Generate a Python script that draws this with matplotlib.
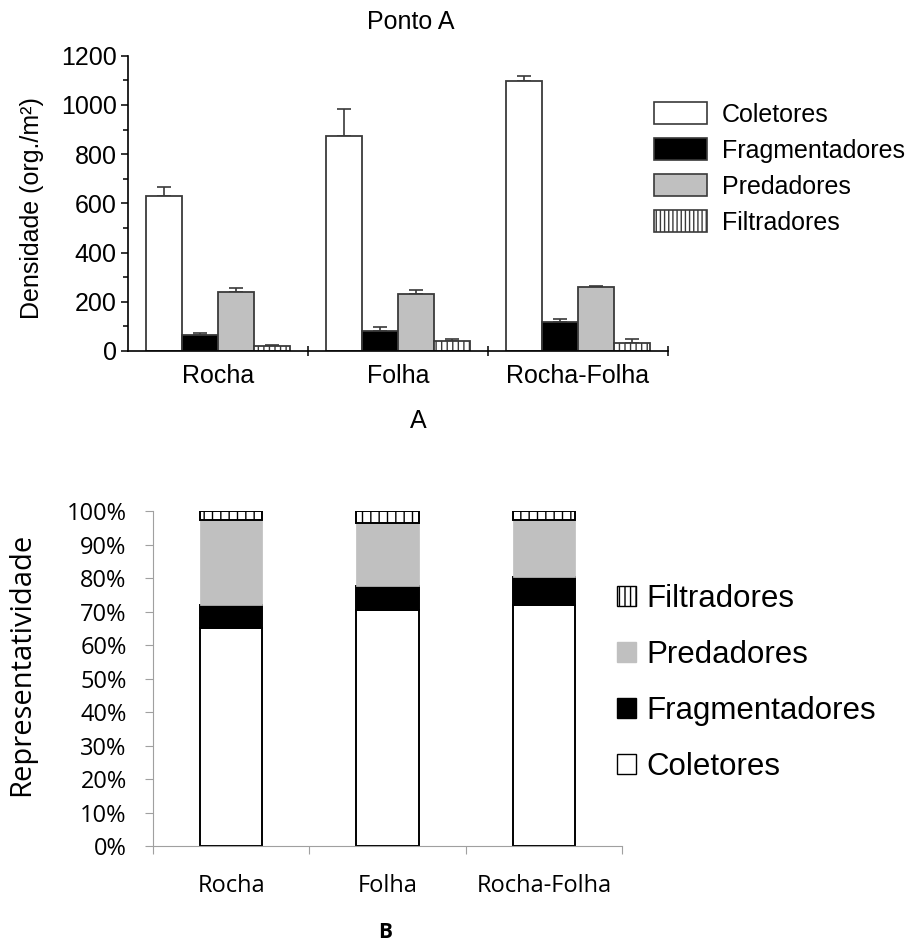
import numpy as np
import matplotlib.pyplot as plt
from matplotlib.patches import Patch
from matplotlib.ticker import MultipleLocator, PercentFormatter

# Substrate types and feeding groups
substrates = ['Rocha', 'Folha', 'Rocha-Folha']
groups = ['Coletores', 'Fragmentadores', 'Predadores', 'Filtradores']

# Mean density (org./m²) and standard error per group
densidade = {
    'Coletores':      [628, 875, 1097],
    'Fragmentadores': [65, 83, 119],
    'Predadores':     [239, 231, 262],
    'Filtradores':    [20, 39, 31],
}
erro = {
    'Coletores':      [40, 110, 19],
    'Fragmentadores': [7, 16, 12],
    'Predadores':     [16, 17, 4],
    'Filtradores':    [4, 9, 17],
}

# Relative share (%) of each group per substrate
representatividade = {
    'Coletores':      [65.1, 70.6, 72.1],
    'Fragmentadores': [7.0, 7.2, 8.3],
    'Predadores':     [25.4, 18.7, 17.1],
    'Filtradores':    [2.5, 3.5, 2.5],
}

fills = {'Coletores': 'white', 'Fragmentadores': 'black',
         'Predadores': '#c0c0c0', 'Filtradores': 'white'}

plt.rcParams['font.family'] = ['Liberation Sans', 'DejaVu Sans']
fig = plt.figure(figsize=(9.18, 9.44), dpi=100)
calib = ['Open Sans', 'DejaVu Sans']

# ---- top panel: densities with error bars ----
ax1 = fig.add_axes([0.1394, 0.6282, 0.5883, 0.3128])
x = np.arange(len(substrates))
w = 0.2
edge = '#3a3a3a'
for i, g in enumerate(groups):
    pos = x - 0.3 + i * w
    ax1.bar(pos, densidade[g], width=w, color=fills[g], edgecolor=edge,
            linewidth=1.3, hatch='|||' if g == 'Filtradores' else None,
            zorder=2)
    ax1.errorbar(pos, densidade[g],
                 yerr=[np.zeros(len(substrates)), erro[g]],
                 fmt='none', ecolor=edge, elinewidth=1.2, capsize=4.7,
                 capthick=1.2, zorder=1)

ax1.set_xlim(-0.5, 2.5)
ax1.set_ylim(0, 1200)
ax1.spines['top'].set_visible(False)
ax1.spines['right'].set_visible(False)
ax1.spines['left'].set_linewidth(1.2)
ax1.spines['bottom'].set_linewidth(1.2)
ax1.yaxis.set_major_locator(MultipleLocator(200))
ax1.yaxis.set_minor_locator(MultipleLocator(100))
ax1.tick_params(axis='y', which='major', length=5, width=1.1, pad=3,
                labelsize=18)
ax1.tick_params(axis='y', which='minor', length=3.5, width=1.1)
ax1.set_xticks([0.5, 1.5, 2.5])
ax1.set_xticklabels([])
ax1.tick_params(axis='x', which='major', direction='inout', length=7,
                width=1.1)
for xi, name in zip(x, substrates):
    ax1.text(xi, -0.045, name, transform=ax1.get_xaxis_transform(),
             ha='center', va='top', fontsize=18)

fig.text(0.035, 1 - 208 / 944, 'Densidade (org./m²)', rotation=90,
         ha='center', va='center', fontsize=18)
fig.text(411 / 918, 1 - 22 / 944, 'Ponto A', ha='center', va='center',
         fontsize=18)
fig.text(418 / 918, 1 - 421 / 944, 'A', ha='center', va='center',
         fontsize=18)

handles1 = [Patch(facecolor=fills[g], edgecolor=edge, linewidth=1.2,
                  hatch='||||' if g == 'Filtradores' else None)
            for g in groups]
fig.legend(handles1, groups, loc='upper left',
           bbox_to_anchor=(654 / 918, 1 - 102 / 944), frameon=False,
           fontsize=18, handlelength=2.1, handleheight=1.0,
           handletextpad=0.6, labelspacing=0.45, borderpad=0,
           borderaxespad=0)

# ---- bottom panel: stacked percentages ----
ax2 = fig.add_axes([0.1667, 0.1038, 0.5109, 0.3546])
bw = 0.4
bottom = np.zeros(len(substrates))
for g in groups:
    vals = np.array(representatividade[g])
    if g == 'Predadores':
        ec, lw = '#bfbfbf', 0.5
    else:
        ec, lw = 'black', 1.4
    ax2.bar(x, vals, width=bw, bottom=bottom, color=fills[g],
            edgecolor=ec, linewidth=lw,
            hatch='||' if g == 'Filtradores' else None, zorder=2)
    bottom += vals

gray = '#a0a0a0'
ax2.set_xlim(-0.5, 2.5)
ax2.set_ylim(0, 100)
ax2.spines['top'].set_visible(False)
ax2.spines['right'].set_visible(False)
ax2.spines['left'].set_color(gray)
ax2.spines['bottom'].set_color(gray)
ax2.yaxis.set_major_locator(MultipleLocator(10))
ax2.yaxis.set_major_formatter(PercentFormatter(decimals=0))
ax2.tick_params(axis='y', length=6, color=gray, pad=13, labelsize=17)
ax2.set_xticks([-0.5, 0.5, 1.5, 2.5])
ax2.set_xticklabels([])
ax2.tick_params(axis='x', length=6, color=gray)
for lab in ax2.get_yticklabels():
    lab.set_family(calib)
for xi, name in zip(x, substrates):
    ax2.text(xi, -0.12, name, transform=ax2.get_xaxis_transform(),
             ha='center', va='center', fontsize=17, family=calib)

fig.text(0.024, 1 - 664 / 944, 'Representatividade', rotation=90,
         ha='center', va='center', fontsize=21, family=calib)
fig.text(385 / 918, 1 - 933 / 944, 'B', ha='center', va='center',
         fontsize=15, fontweight='bold', family=calib)

handles2 = [Patch(facecolor=fills[g],
                  edgecolor='#c0c0c0' if g == 'Predadores' else 'black',
                  linewidth=1.0,
                  hatch='|||' if g == 'Filtradores' else None)
            for g in groups[::-1]]
fig.legend(handles2, groups[::-1], loc='upper left',
           bbox_to_anchor=(617 / 918, 1 - 584 / 944), frameon=False,
           fontsize=22.5, handlelength=0.6, handleheight=0.6,
           handletextpad=0.33, labelspacing=0.83, borderpad=0,
           borderaxespad=0)

fig.savefig('out.png', dpi=100)
